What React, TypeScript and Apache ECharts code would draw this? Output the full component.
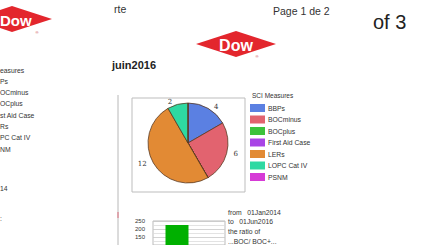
import React, { useEffect, useRef } from "react";
import * as echarts from "echarts";

const categories = ["BBPs", "BOCminus", "BOCplus", "First Aid Case", "LERs", "LOPC Cat IV", "PSNM"];
const counts = [4, 6, 0, 0, 12, 2, 0];
const colors = ["#5b80e2", "#e2636f", "#3cc23c", "#a844e6", "#e28a34", "#2ed9a2", "#d63ad6"];
const leftLegendFragments = ["easures", "Ps", "OCminus", "OCplus", "st Aid Case", "Rs", "PC Cat IV", "NM"];
const ratioBars = [[1, 225]];
const ratioTicks = [150, 200, 250];
const noteLines = ["from   01Jan2014", "to   01Jun2016", "the ratio of", "...BOC/ BOC+..."];

const FONT = "Liberation Sans, Arial, sans-serif";

function logo(cx: number, cy: number, textX: number | null, size: number, regX: number, regY: number) {
  return [
    {
      type: "polygon",
      shape: { points: [[cx - 40, cy], [cx, cy - 13], [cx + 40, cy], [cx, cy + 13]] },
      style: { fill: "#e3262d" },
    },
    {
      type: "text",
      x: textX !== null ? textX : cx,
      y: cy + 1,
      style: {
        text: "Dow",
        fill: "#ffffff",
        font: `bold ${size}px ${FONT}`,
        align: textX !== null ? "left" : "center",
        verticalAlign: "middle",
      },
    },
    {
      type: "text",
      x: regX,
      y: regY,
      style: { text: "®", fill: "#c03030", font: `4px ${FONT}`, align: "center", verticalAlign: "middle" },
    },
  ];
}

export default function App() {
  const ref = useRef<HTMLDivElement>(null);
  useEffect(() => {
    if (!ref.current) return;
    const chart = echarts.init(ref.current, null, { renderer: "svg" });
    const graphics: any[] = [
      ...logo(12, 19, 0, 15, 37, 32),
      ...logo(236, 44, null, 16, 257, 56),
      { type: "line", shape: { x1: 118, y1: 95, x2: 118, y2: 245 }, style: { stroke: "#b8b8b8", lineWidth: 1 } },
      { type: "line", shape: { x1: 118, y1: 212, x2: 118, y2: 218 }, style: { stroke: "#e07080", lineWidth: 1 } },
      { type: "rect", shape: { x: 132, y: 98, width: 113, height: 94 }, style: { fill: "none", stroke: "#bdbdbd", lineWidth: 1 } },
      { type: "text", x: 114, y: 9, style: { text: "rte", fill: "#333", font: `10.5px ${FONT}`, verticalAlign: "middle" } },
      { type: "text", x: 273, y: 11, style: { text: "Page 1 de 2", fill: "#333", font: `10.5px ${FONT}`, verticalAlign: "middle" } },
      { type: "text", x: 373, y: 22, style: { text: "of 3", fill: "#222", font: `20px ${FONT}`, verticalAlign: "middle" } },
      { type: "text", x: 112, y: 65, style: { text: "juin2016", fill: "#222", font: `bold 11px ${FONT}`, verticalAlign: "middle" } },
      { type: "text", x: 252, y: 95, style: { text: "SCI Measures", fill: "#333", font: `6.5px ${FONT}`, verticalAlign: "middle" } },
      ...leftLegendFragments.map((t, i) => ({
        type: "text",
        x: 0,
        y: 70 + i * 11.3,
        style: { text: t, fill: "#333", font: `6.8px ${FONT}`, verticalAlign: "middle" },
      })),
      { type: "text", x: 0, y: 188, style: { text: "14", fill: "#333", font: `6.8px ${FONT}`, verticalAlign: "middle" } },
      { type: "text", x: 0, y: 218, style: { text: ":", fill: "#333", font: `6.8px ${FONT}`, verticalAlign: "middle" } },
      ...noteLines.map((t, i) => ({
        type: "text",
        x: 228,
        y: 212 + i * 9.7,
        style: { text: t, fill: "#333", font: `6.8px ${FONT}`, verticalAlign: "middle" },
      })),
    ];

    chart.setOption({
      animation: false,
      backgroundColor: "#ffffff",
      color: colors,
      graphic: graphics,
      legend: {
        data: categories,
        orient: "vertical",
        left: 250,
        top: 104,
        itemWidth: 15,
        itemHeight: 8,
        itemGap: 3.5,
        icon: "rect",
        padding: 0,
        selectedMode: false,
        itemStyle: { borderWidth: 0 },
        textStyle: { fontSize: 6.8, lineHeight: 8, color: "#333", fontFamily: FONT, padding: [0, 0, 0, -2] },
      },
      grid: { left: 153, top: 221, width: 72, height: 24.9, show: true, borderColor: "#bbb", borderWidth: 1 },
      xAxis: { type: "value", min: 0, max: 3, show: false },
      yAxis: {
        type: "value",
        min: 100,
        max: 250,
        interval: 50,
        axisLine: { show: false },
        axisTick: { show: false },
        axisLabel: {
          fontSize: 6,
          lineHeight: 6,
          color: "#333",
          fontFamily: FONT,
          margin: 8,
          showMaxLabel: true,
          showMinLabel: true,
          hideOverlap: false,
          formatter: (v: number) => (ratioTicks.includes(v) ? String(v) : ""),
        },
        splitLine: { lineStyle: { color: "#c8c8c8", width: 0.8 } },
        minorSplitLine: { show: true, lineStyle: { color: "#dcdcdc", width: 0.8 } },
        minorTick: { splitNumber: 2 },
      },
      series: [
        {
          type: "pie",
          center: [188, 143],
          radius: 40,
          startAngle: 90,
          clockwise: true,
          itemStyle: { borderColor: "#5a3a22", borderWidth: 0.8 },
          label: { position: "outside", fontSize: 7, color: "#333", fontFamily: "DejaVu Serif, serif", formatter: "{c}" },
          labelLine: { show: false, length: 2, length2: 0 },
          emphasis: { disabled: true },
          data: categories.map((name, i) => ({
            name,
            value: counts[i],
            label: { show: counts[i] > 0 },
          })),
        },
        {
          type: "bar",
          name: "ratio",
          barWidth: 23,
          itemStyle: { color: "#00b000" },
          data: ratioBars,
        },
      ],
    });
    return () => chart.dispose();
  }, []);
  return <div ref={ref} style={{ position: "absolute", left: 0, top: 0, width: 429, height: 245 }} />;
}
